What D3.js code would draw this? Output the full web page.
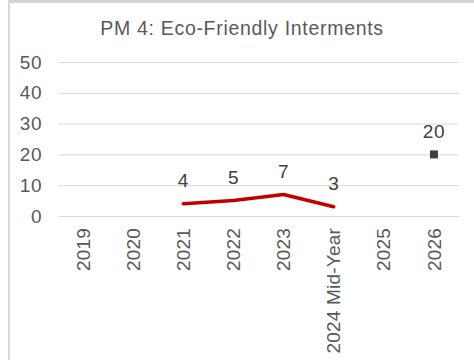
<!DOCTYPE html>
<html>
<head>
<meta charset="utf-8">
<script src="https://cdn.jsdelivr.net/npm/d3@7"></script>
<style>
  html, body { margin: 0; padding: 0; background: #fff; }
  svg { display: block; font-family: Arial, "Liberation Sans", sans-serif; }
</style>
</head>
<body>
<svg id="chart" width="474" height="360"></svg>
<script>
// Performance measure data
const categories = ["2019", "2020", "2021", "2022", "2023", "2024 Mid-Year", "2025", "2026"];
const actualYears = ["2021", "2022", "2023", "2024 Mid-Year"];
const actualValues = [4, 5, 7, 3];
const targetYears = ["2026"];
const targetValues = [20];
const yTicks = [0, 10, 20, 30, 40, 50];
const titleText = "PM 4: Eco-Friendly Interments";

const svg = d3.select("#chart");
const W = 474, H = 360;
const plot = { left: 58, right: 459, top: 62, bottom: 216 };
const textColor = "#595959";
const fontStack = "Arial, 'Liberation Sans', sans-serif";

// frame edges
svg.append("rect").attr("x", 8).attr("y", 0).attr("width", W - 8).attr("height", 3).attr("fill", "#d4d4d4");
svg.append("rect").attr("x", 8).attr("y", 0).attr("width", 2).attr("height", H).attr("fill", "#d9d9d9");

const x = d3.scaleBand().domain(categories).range([plot.left, plot.right]);
const y = d3.scaleLinear().domain([0, 50]).range([plot.bottom, plot.top]);

// title
svg.append("text")
  .attr("x", 242).attr("y", 35)
  .attr("text-anchor", "middle")
  .attr("fill", textColor)
  .style("font-size", "19.5px")
  .style("letter-spacing", "0.7px")
  .text(titleText);

// y axis with gridlines
const yAxis = svg.append("g")
  .attr("transform", `translate(${plot.left},0)`)
  .call(d3.axisLeft(y).tickValues(yTicks).tickSize(-(plot.right - plot.left)).tickPadding(16));
yAxis.select(".domain").remove();
yAxis.selectAll(".tick line").attr("stroke", "#d9d9d9").attr("stroke-width", 1);
yAxis.selectAll(".tick text")
  .attr("fill", textColor)
  .style("font-size", "19px")
  .style("letter-spacing", "0.5px")
  .style("font-family", fontStack);

// x axis, rotated labels
const xAxis = svg.append("g")
  .attr("transform", `translate(0,${plot.bottom})`)
  .call(d3.axisBottom(x).tickSize(0));
xAxis.select(".domain").remove();
xAxis.selectAll(".tick text")
  .attr("fill", textColor)
  .style("font-size", "19px")
  .style("letter-spacing", "0.2px")
  .style("font-family", fontStack)
  .attr("transform", "rotate(-90)")
  .attr("text-anchor", "end")
  .attr("x", -12)
  .attr("y", 0)
  .attr("dy", "0.35em");

// actual series line
const actual = actualYears.map((c, i) => ({ c, v: actualValues[i] }));
const cx = c => x(c) + x.bandwidth() / 2;
svg.append("path")
  .datum(actual)
  .attr("fill", "none")
  .attr("stroke", "#c00000")
  .attr("stroke-width", 3.5)
  .attr("stroke-linejoin", "round")
  .attr("stroke-linecap", "round")
  .attr("d", d3.line().x(d => cx(d.c)).y(d => y(d.v)));

svg.selectAll(".lbl-actual")
  .data(actual)
  .enter().append("text")
  .attr("x", d => cx(d.c))
  .attr("y", d => y(d.v) - 16.5)
  .attr("text-anchor", "middle")
  .attr("fill", "#404040")
  .style("font-size", "19px")
  .style("letter-spacing", "0.5px")
  .text(d => d.v);

// target marker
const target = targetYears.map((c, i) => ({ c, v: targetValues[i] }));
svg.selectAll(".marker")
  .data(target)
  .enter().append("rect")
  .attr("x", d => cx(d.c) - 4)
  .attr("y", d => y(d.v) - 4)
  .attr("width", 8).attr("height", 8)
  .attr("fill", "#404040");

svg.selectAll(".lbl-target")
  .data(target)
  .enter().append("text")
  .attr("x", d => cx(d.c))
  .attr("y", d => y(d.v) - 16)
  .attr("text-anchor", "middle")
  .attr("fill", "#404040")
  .style("font-size", "19px")
  .style("letter-spacing", "0.5px")
  .text(d => d.v);
</script>
</body>
</html>
